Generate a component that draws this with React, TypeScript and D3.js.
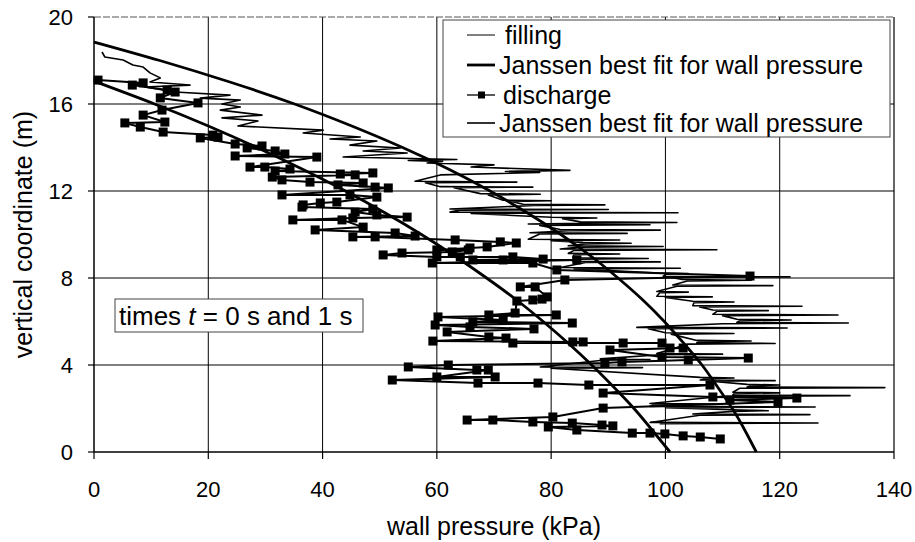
import React from "react";
import * as d3 from "d3";

// ---- data: [wall pressure p (kPa), vertical coordinate z (m)] ----
const xTicks = [0, 20, 40, 60, 80, 100, 120, 140];
const yTicks = [0, 4, 8, 12, 16, 20];

// filling, t = 0 s (thin zig-zag trace)
const fillingPoints: [number, number][] = [
  [1.4,18.39],[1.9,18.16],[5.1,18.02],[6.8,17.79],[8.6,17.70],[9.8,17.43],[11.6,17.20],[9.8,17.01],
  [16.8,16.87],[8.9,16.78],[14.2,16.55],[23.8,16.41],[18.6,16.27],[25.6,16.18],[22.4,16.0],[25.6,15.86],
  [22.1,15.72],[29.4,15.49],[22.4,15.36],[28.7,15.22],[25.2,14.99],[40.1,14.80],[36.6,14.67],[46.6,14.48],
  [41.3,14.39],[49.5,14.30],[44.8,14.11],[53.6,13.98],[47.1,13.84],[54.8,13.75],[43.6,13.56],[63.5,13.45],
  [55,13.40],[61,13.36],[58.3,13.29],[70,13.2],[66,13.1],[83.3,12.95],[72,12.9],[78,12.85],[60.6,12.74],
  [56.2,12.45],[74.0,12.41],[58,12.38],
  [60.6,12.20],[76.8,12.18],[63,12.15],
  [67.6,11.88],[78.1,11.85],[69,11.82],
  [71.6,11.58],[80,11.55],[73,11.52],
  [75.1,11.39],[89.4,11.36],[77,11.33],
  [62.3,11.17],[90,11.15],[64,11.12],
  [62.3,11.03],[102.2,11.0],[66,10.97],
  [80,10.79],[88,10.76],[82,10.73],
  [85.1,10.58],[102,10.55],[86,10.52],
  [76.0,10.48],[97.3,10.45],[78,10.42],
  [81.6,10.23],[99.1,10.2],[83,10.17],
  [76.3,10.08],[93.3,10.05],[78,10.02],
  [76,9.78],[92,9.75],[80,9.72],
  [85.6,9.63],[94,9.6],[86,9.57],
  [83,9.48],[99.6,9.45],[85,9.42],
  [81.6,9.33],[109,9.3],[84,9.27],
  [83,9.13],[92,9.1],[84,9.07],
  [83.8,8.93],[97,8.9],[85,8.87],
  [83.8,8.77],[99.1,8.74],[86,8.71],
  [81.6,8.48],[102.6,8.45],[84,8.42],
  [99,8.23],[104,8.2],[100,8.17],
  [99.6,8.08],[121.8,8.05],[101,8.02],
  [103,7.93],[115,7.9],[104,7.87],
  [101.3,7.68],[118.8,7.65],[102,7.62],
  [98.5,7.38],[104,7.35],[99,7.32],
  [98.5,7.16],[108.2,7.13],[100,7.10],
  [104.8,6.93],[112,6.9],[105,6.87],
  [104.8,6.73],[123.9,6.7],[106,6.67],
  [108.3,6.53],[118,6.5],[109,6.47],
  [108.3,6.33],[130.2,6.3],[110,6.27],
  [112.5,6.1],[122,6.07],[113,6.04],
  [112.5,5.96],[132,5.93],[110,5.9],
  [95,5.73],[121.3,5.7],[97,5.67],
  [100,5.48],[112,5.45],[101,5.42],
  [105.5,5.13],[115,5.1],[106,5.07],
  [105.5,5.02],[119.2,4.99],[104,4.96],
  [98.5,4.53],[110,4.5],[99,4.47],
  [88.6,4.28],[97.3,4.25],[89,4.22],
  [78.1,3.91],[96,3.88],[80,3.85],
  [106.1,3.43],[112,3.4],[107,3.37],
  [106.1,3.31],[119.2,3.28],[108,3.25],
  [114.3,3.11],[120,3.08],[115,3.05],
  [114.3,2.99],[138.4,2.96],[113,2.93],
  [111.8,2.75],[120,2.72],[112,2.69],
  [111.8,2.62],[132.3,2.59],[110,2.56],
  [97.3,2.23],[110,2.2],[98,2.17],
  [97.3,2.1],[126.2,2.07],[100,2.04],
  [113.1,1.93],[118,1.9],[112,1.87],
  [104.8,1.75],[125.3,1.72],[106,1.69],
  [97.3,1.36],[126.7,1.33],[99,1.30]
];

// discharge, t = 1 s (squares joined by a line)
const dischargePoints: [number, number][] = [
  [0.7,17.10],[8.6,16.97],[6.7,16.87],[12.8,16.64],[14.2,16.55],[11.6,16.28],[18.2,16.05],[11.9,15.72],
  [8.6,15.49],[12.4,15.17],[5.4,15.13],[8.1,14.94],[12.1,14.71],[20.8,14.57],[21.7,14.48],[18.6,14.44],
  [24.7,14.16],[29.4,14.07],[26.8,13.98],[31.7,13.84],[33.4,13.70],[24.7,13.61],[39.0,13.56],[27.3,13.10],
  [29.9,13.10],[34.3,13.01],[31.7,12.92],[48.8,12.83],[43.1,12.78],[45.7,12.74],[31.2,12.64],[32.9,12.51],
  [37.8,12.41],[47.1,12.37],[42.7,12.28],[49.2,12.18],[51.5,12.14],[32.9,11.82],[44.8,11.82],[49.5,11.72],
  [42.5,11.49],[39.6,11.45],[36.6,11.36],[36.4,11.26],[48.8,11.17],[45.7,11.03],[49.5,10.90],[54.8,10.80],
  [45.3,10.76],[34.8,10.67],[43.4,10.67],[47.1,10.34],[38.7,10.21],[52.7,10.07],[56.2,9.93],[45.3,9.89],
  [49.2,9.89],[63.2,9.75],[71.1,9.66],[73.9,9.61],[68.8,9.43],[65.8,9.38],[60.0,9.29],[65.5,9.29],
  [62.7,9.20],[53.9,9.15],[50.6,9.06],[60.0,8.97],[64.1,8.97],[73.3,8.97],[78.6,8.87],[66.3,8.83],
  [71.6,8.83],[84.5,8.83],[59.2,8.69],[76.8,8.69],[81.0,8.37],[114.8,8.09],[82.4,7.91],[74.6,7.59],
  [77.2,7.59],[79.3,7.13],[78.4,7.03],[76.8,6.99],[74.0,6.94],[73.7,6.39],[69.1,6.30],[80.9,6.30],
  [60.2,6.21],[71.6,6.07],[66.3,5.98],[83.7,5.93],[59.7,5.84],[65.8,5.75],[77.0,5.66],[61.8,5.52],
  [69.1,5.29],[72.1,5.24],[59.3,5.10],[83.8,5.06],[85.6,5.06],[73.3,5.01],[92.6,5.01],[99.4,5.01],
  [100.8,4.78],[103.1,4.78],[90.3,4.69],[99.4,4.37],[114.5,4.32],[104.0,4.23],[92.4,4.14],[89.4,4.09],
  [62.0,4.00],[55.0,3.91],[67.0,3.77],[69.0,3.77],[60.0,3.45],[70.2,3.45],[52.2,3.31],[67.2,3.17],
  [77.7,3.17],[86.6,3.08],[107.8,3.08],[89.1,2.71],[108.3,2.53],[123.0,2.48],[111.3,2.39],[119.7,2.30],
  [89.1,2.02],[80.3,1.61],[65.3,1.47],[69.8,1.47],[76.8,1.38],[83.7,1.33],[88.9,1.24],[90.8,1.20],
  [79.5,1.15],[84.5,1.01],[94.2,0.87],[97.3,0.87],[99.9,0.83],[103.1,0.74],[106.1,0.69],[109.6,0.60]
];

// Janssen best-fit curves
const fitFillZ = [18.85,18,17,16,15,14,13,12,11,10,9,8,7,6,5,4,3,2,1,0];
const fitFillP = [0,11.5,23.9,35.1,45.0,54.0,62.1,69.3,75.8,81.7,87.0,91.7,96.0,99.8,103.2,106.4,109.1,111.7,113.9,115.9];
const fitDisZ = [17.05,16,15,14,13,12,11,10,9,8,7,6,5,4,3,2,1,0];
const fitDisP = [0,10.6,19.9,28.5,36.5,44.0,50.9,57.3,63.2,68.7,73.9,78.6,83.0,87.1,90.9,94.5,97.7,100.8];

const legendLabels = ["filling", "Janssen best fit for wall pressure", "discharge", "Janssen best fit for wall pressure"];

const FONT = "'Liberation Sans', Arial, Helvetica, sans-serif";

export default function App() {
  const W = 915, H = 542;
  const x = d3.scaleLinear().domain([0, 140]).range([94, 894]);
  const y = d3.scaleLinear().domain([0, 20]).range([452, 17]);

  const pts = (P: number[], Z: number[]) => P.map((p, i) => [p, Z[i]] as [number, number]);
  const line = d3.line<[number, number]>().x(d => x(d[0])).y(d => y(d[1]));
  const smooth = d3.line<[number, number]>().x(d => x(d[0])).y(d => y(d[1])).curve(d3.curveNatural);

  const fitF = pts(fitFillP, fitFillZ);
  const fitD = pts(fitDisP, fitDisZ);

  const legendRows = [35, 65, 95, 123];

  return (
    <svg width={W} height={H} style={{ position: "absolute", left: 0, top: 0, background: "#fff" }} fontFamily={FONT}>
      {/* grid */}
      {yTicks.filter(t => t > 0 && t < 20).map(t => (
        <line key={"gy" + t} x1={x(0)} x2={x(140)} y1={y(t)} y2={y(t)} stroke="#000" strokeWidth={1} />
      ))}
      {xTicks.filter(t => t > 0 && t < 140).map(t => (
        <line key={"gx" + t} x1={x(t)} x2={x(t)} y1={y(0)} y2={y(20)} stroke="#000" strokeWidth={1} />
      ))}
      {/* frame */}
      <line x1={x(0)} x2={x(140)} y1={y(20)} y2={y(20)} stroke="#555" strokeWidth={1} strokeDasharray="7 2" />
      <line x1={x(140)} x2={x(140)} y1={y(20)} y2={y(0)} stroke="#000" strokeWidth={1.2} />
      {/* axes */}
      <line x1={x(0)} x2={x(0)} y1={y(20)} y2={y(0)} stroke="#000" strokeWidth={1.5} />
      <line x1={x(0)} x2={x(140)} y1={y(0)} y2={y(0)} stroke="#000" strokeWidth={1.5} />
      {yTicks.map(t => (
        <g key={"yt" + t}>
          <line x1={x(0) - 6} x2={x(0)} y1={y(t)} y2={y(t)} stroke="#000" strokeWidth={1.2} />
          <text x={73} y={y(t)} dy="0.36em" textAnchor="end" fontSize={22}>{t}</text>
        </g>
      ))}
      {xTicks.map(t => (
        <g key={"xt" + t}>
          <line x1={x(t)} x2={x(t)} y1={y(0)} y2={y(0) + 7} stroke="#000" strokeWidth={1.2} />
          <text x={x(t)} y={497} textAnchor="middle" fontSize={22}>{t}</text>
        </g>
      ))}
      <text x={(x(0) + x(140)) / 2} y={535} textAnchor="middle" fontSize={25}>wall pressure (kPa)</text>
      <text transform={`translate(32,${(y(0) + y(20)) / 2}) rotate(-90)`} textAnchor="middle" fontSize={25}>vertical coordinate (m)</text>

      {/* data */}
      <path d={line(fillingPoints) || ""} fill="none" stroke="#000" strokeWidth={1.6} strokeLinejoin="round" />
      <path d={line(dischargePoints) || ""} fill="none" stroke="#000" strokeWidth={2} strokeLinejoin="round" />
      {dischargePoints.map((d, i) => (
        <rect key={"sq" + i} x={x(d[0]) - 4.5} y={y(d[1]) - 4.5} width={9} height={9} fill="#000" />
      ))}
      <path d={smooth(fitF) || ""} fill="none" stroke="#000" strokeWidth={2.8} />
      <path d={smooth(fitD) || ""} fill="none" stroke="#000" strokeWidth={2.8} />

      {/* legend */}
      <rect x={443} y={20} width={447} height={117} fill="#fff" stroke="#444" strokeWidth={1} />
      <line x1={467} x2={495} y1={legendRows[0]} y2={legendRows[0]} stroke="#000" strokeWidth={1} />
      <line x1={467} x2={495} y1={legendRows[1]} y2={legendRows[1]} stroke="#000" strokeWidth={2.8} />
      <line x1={467} x2={495} y1={legendRows[2]} y2={legendRows[2]} stroke="#000" strokeWidth={1.3} />
      <rect x={478} y={legendRows[2] - 3.5} width={7} height={7} fill="#000" />
      <line x1={467} x2={495} y1={legendRows[3]} y2={legendRows[3]} stroke="#000" strokeWidth={1.6} />
      <text x={505} y={legendRows[0]} dy="0.36em" fontSize={25}>{legendLabels[0]}</text>
      <text x={499} y={legendRows[1]} dy="0.36em" fontSize={25}>{legendLabels[1]}</text>
      <text x={503} y={legendRows[2]} dy="0.36em" fontSize={25}>{legendLabels[2]}</text>
      <text x={499} y={legendRows[3]} dy="0.36em" fontSize={25}>{legendLabels[3]}</text>

      {/* annotation box */}
      <rect x={115} y={299} width={248} height={33} fill="#fff" stroke="#444" strokeWidth={1} />
      <text x={119} y={316} dy="0.36em" fontSize={26}>
        times <tspan fontStyle="italic">t</tspan> = 0 s and 1 s
      </text>
    </svg>
  );
}
